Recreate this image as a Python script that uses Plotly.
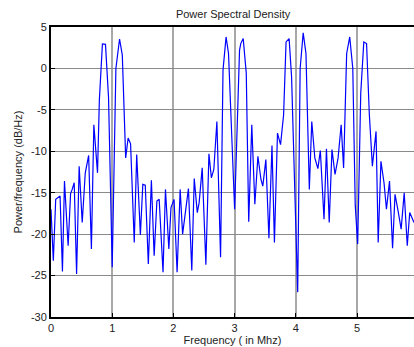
import plotly.graph_objects as go

freq_mhz = [
    0.000, 0.038, 0.077, 0.110, 0.148, 0.187, 0.220, 0.280, 0.320, 0.346,
    0.379, 0.418, 0.460, 0.510, 0.560, 0.615, 0.660, 0.700, 0.760, 0.790,
    0.840, 0.890, 0.940, 1.000, 1.060, 1.120, 1.165, 1.220, 1.260, 1.300,
    1.360, 1.400, 1.460, 1.500, 1.540, 1.590, 1.640, 1.685, 1.730, 1.767,
    1.830, 1.870, 1.925, 1.960, 2.010, 2.060, 2.110, 2.150, 2.200, 2.245,
    2.300, 2.340, 2.390, 2.420, 2.470, 2.530, 2.580, 2.620, 2.660, 2.710,
    2.770, 2.810, 2.860, 2.900, 3.000, 3.080, 3.100, 3.140, 3.190, 3.230,
    3.280, 3.330, 3.380, 3.430, 3.460, 3.510, 3.560, 3.610, 3.650, 3.700,
    3.750, 3.800, 3.840, 3.890, 3.930, 4.030, 4.070, 4.120, 4.165, 4.220,
    4.260, 4.310, 4.360, 4.400, 4.460, 4.500, 4.545, 4.590, 4.640, 4.690,
    4.740, 4.780, 4.830, 4.880, 4.930, 4.970, 5.010, 5.060, 5.110, 5.155,
    5.200, 5.250, 5.310, 5.345, 5.390, 5.440, 5.480, 5.530, 5.580, 5.620,
    5.670, 5.720, 5.770, 5.820, 5.860, 5.900, 5.930,
]
psd_db = [
    -17.0, -23.2, -15.8, -15.6, -15.4, -24.5, -13.6, -21.4, -15.1, -14.6,
    -13.8, -24.8, -11.8, -18.6, -12.6, -10.5, -21.8, -6.8, -12.6, -3.8,
    2.95, 2.9, -3.5, -24.0, 0.0, 3.55, 1.6, -10.8, -8.4, -9.1,
    -21.0, -10.4, -20.1, -14.0, -14.1, -23.6, -13.5, -22.6, -16.0, -15.8,
    -24.6, -14.6, -21.8, -16.8, -15.8, -24.6, -14.6, -20.0, -17.2, -14.5,
    -24.4, -13.3, -17.4, -16.2, -12.0, -23.7, -10.3, -13.2, -12.2, -6.4,
    -22.8, -0.2, 3.8, 1.8, -17.0, 2.2, 3.0, 3.6, -0.6, -18.5,
    -6.8, -16.4, -10.6, -13.4, -14.2, -11.0, -20.5, -9.3, -21.0, -7.8,
    -9.2, -5.6, 3.2, 3.6, -1.0, -27.0, 0.0, 4.3, 1.8, -14.6,
    -6.4, -10.8, -12.1, -9.9, -18.2, -9.7, -18.6, -9.8, -12.8, -10.8,
    -6.8, -12.0, 1.8, 3.8, 0.0, -16.5, -21.2, -3.0, 3.2, 3.0,
    -5.5, -11.8, -7.6, -21.0, -11.2, -13.8, -17.0, -13.6, -21.7, -15.2,
    -17.2, -19.4, -15.0, -21.4, -17.4, -18.0, -18.6,
]

x_ticks = [0, 1, 2, 3, 4, 5]
y_ticks = [5, 0, -5, -10, -15, -20, -25, -30]

fig = go.Figure()
fig.add_trace(go.Scatter(
    x=freq_mhz, y=psd_db, mode="lines",
    line=dict(color="#0000ff", width=1.2),
    showlegend=False, hoverinfo="skip",
))

font = dict(family="Liberation Sans, Arial, sans-serif", size=11, color="#222222")

fig.update_layout(
    width=414, height=347,
    margin=dict(l=51, r=0, t=27, b=30),
    paper_bgcolor="white", plot_bgcolor="white",
    font=font,
    title=dict(text="Power Spectral Density", x=0.563, xanchor="center",
               y=1 - 14 / 347, yanchor="middle", yref="container",
               font=dict(family=font["family"], size=11, color="#222222")),
)
fig.update_xaxes(
    range=[0, 5.93], tickvals=x_ticks, ticktext=[str(t) for t in x_ticks],
    showgrid=True, gridcolor="#a8a8a8", gridwidth=1.5,
    showline=True, linecolor="black", linewidth=2, mirror=True,
    ticks="inside", ticklen=4, tickcolor="black",
    zeroline=False, automargin=False,
    title=dict(text="Frequency ( in Mhz)", standoff=2, font=font),
)
fig.update_yaxes(
    range=[-30, 5], tickvals=y_ticks, ticktext=[str(t) for t in y_ticks],
    showgrid=True, gridcolor="#8a8a8a", gridwidth=1,
    showline=True, linecolor="black", linewidth=2, mirror=False,
    ticks="inside", ticklen=4, tickcolor="black",
    zeroline=False, automargin=False,
    title=dict(text="Power/frequency (dB/Hz)", standoff=6, font=font),
)

fig.write_html("out.html")
